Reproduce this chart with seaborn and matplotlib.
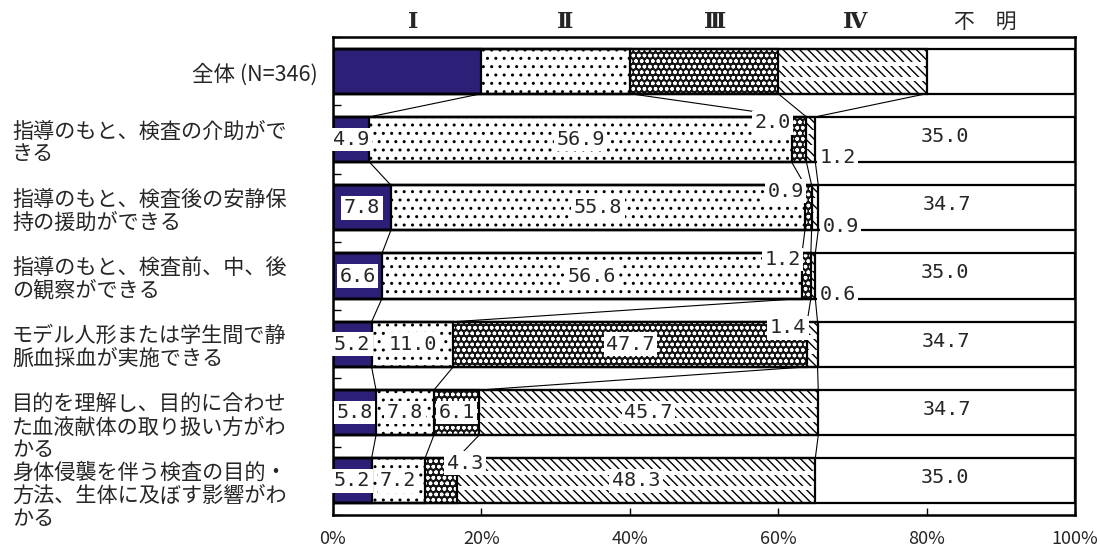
import numpy as np
import pandas as pd
import matplotlib
matplotlib.use("Agg")
import matplotlib.pyplot as plt
import matplotlib.transforms as mtransforms
import seaborn as sns

# ---- data -------------------------------------------------------------
categories = [
    "全体 (N=346)",
    "指導のもと、検査の介助がで\nきる",
    "指導のもと、検査後の安静保\n持の援助ができる",
    "指導のもと、検査前、中、後\nの観察ができる",
    "モデル人形または学生間で静\n脈血採血が実施できる",
    "目的を理解し、目的に合わせ\nた血液献体の取り扱い方がわ\nかる",
    "身体侵襲を伴う検査の目的・\n方法、生体に及ぼす影響がわ\nかる",
]
level_names = ["Ⅰ", "Ⅱ", "Ⅲ", "Ⅳ", "不　明"]
level_1 = [20.0, 4.9, 7.8, 6.6, 5.2, 5.8, 5.2]
level_2 = [20.0, 56.9, 55.8, 56.6, 11.0, 7.8, 7.2]
level_3 = [20.0, 2.0, 0.9, 1.2, 47.7, 6.1, 4.3]
level_4 = [20.0, 1.2, 0.9, 0.6, 1.4, 45.7, 48.3]
unknown = [20.0, 35.0, 34.7, 35.0, 34.7, 34.7, 35.0]
x_ticks = [0, 20, 40, 60, 80, 100]
x_tick_labels = ["0%", "20%", "40%", "60%", "80%", "100%"]

# ---- styling ----------------------------------------------------------
sns.set_style("white")
JP = ["Noto Sans CJK JP", "DejaVu Sans"]
plt.rcParams["font.family"] = JP
plt.rcParams["hatch.linewidth"] = 1.0

NAVY = "#2b1f78"
BAR_H = 0.66
EDGE_LW = 1.6

fig, ax = plt.subplots(figsize=(11, 5.5), dpi=100)
fig.subplots_adjust(left=333 / 1100, right=1075 / 1100,
                    top=1 - 37 / 550, bottom=1 - 515 / 550)

series = [level_1, level_2, level_3, level_4, unknown]
vals = np.array(series, dtype=float)
cum = np.cumsum(vals, axis=0)
df = pd.DataFrame({"item": categories})
for k in range(5):
    df[f"cum{k}"] = cum[k]

fills = [
    dict(face=NAVY, hatch=None, hatch_col=None),
    dict(face="white", hatch="..", hatch_col="black"),
    dict(face="#151515", hatch="ooo", hatch_col="white"),
    dict(face="white", hatch="\\\\\\\\", hatch_col="black"),
    dict(face="white", hatch=None, hatch_col=None),
]


def layer(col, **style):
    n0 = len(ax.patches)
    sns.barplot(data=df, x=col, y="item", order=categories, orient="h",
                width=BAR_H, color="white", errorbar=None, ax=ax)
    new = ax.patches[n0:]
    for p in new:
        p.set_facecolor(style.get("face", "none"))
        p.set_edgecolor(style.get("edge", "black"))
        p.set_linewidth(style.get("lw", 0))
        if style.get("hatch"):
            p.set_hatch(style["hatch"])
        p.set_zorder(style.get("z", 2))
    return new


rows = np.arange(len(categories))
# stacked bars: draw cumulative totals from the widest down
for k in range(4, -1, -1):
    f = fills[k]
    layer(f"cum{k}", face=f["face"], hatch=f["hatch"],
          edge=f["hatch_col"] if f["hatch_col"] else f["face"], lw=0, z=2)
    if k == 3:
        # thin white gaps splitting the diagonal strokes into three rows
        for off in (-0.11, 0.11):
            ax.barh(rows + off, vals[3], left=cum[2], height=0.06,
                    color="white", linewidth=0, zorder=2)
    layer(f"cum{k}", face="none", edge="black", lw=EDGE_LW, z=3)

ax.set_xlim(0, 100)
ax.set_ylim(len(categories) - 0.5, -0.5)

# series lines joining the segment boundaries of neighbouring bars
for i in range(len(categories) - 1):
    for k in range(4):
        ax.plot([cum[k][i], cum[k][i + 1]],
                [i + BAR_H / 2, i + 1 - BAR_H / 2],
                color="black", lw=0.8, zorder=2.5)

# ---- axes ------------------------------------------------------------
for s in ax.spines.values():
    s.set_visible(True)
    s.set_color("black")
    s.set_linewidth(1.8)
ax.set_xlabel("")
ax.set_ylabel("")
ax.set_yticks(np.arange(-0.5, len(categories), 1.0))
ax.set_yticklabels([])
ax.set_xticks(x_ticks)
ax.set_xticklabels(x_tick_labels, fontsize=13, family=JP)
ax.tick_params(axis="y", direction="in", length=6, width=1, color="black", left=True)
ax.tick_params(axis="x", direction="in", length=5, width=1, color="black",
               bottom=True, pad=11)

# header labels above the columns
hdr_x = [10.8, 31.3, 51.5, 70.4, 87.9]
for j, (name, hx) in enumerate(zip(level_names, hdr_x)):
    ax.text(hx, -0.5, name, transform=mtransforms.offset_copy(
        ax.transData, fig=fig, x=0, y=15, units="dots"),
        ha="center", va="center", fontsize=16 if j < 4 else 15,
        fontweight="bold" if j < 4 else "normal",
        family=["DejaVu Serif", "Noto Sans CJK JP"])

# category labels on the left
lab_tr = mtransforms.blended_transform_factory(fig.transFigure, ax.transData)
for i, cat in enumerate(categories):
    if i == 0:
        ax.text(318 / 1100, i, cat, transform=mtransforms.offset_copy(
            lab_tr, fig=fig, x=0, y=-3, units="dots"),
            ha="right", va="center", fontsize=15.5, family=JP)
    else:
        ax.text(12 / 1100, i, cat, transform=mtransforms.offset_copy(
            lab_tr, fig=fig, x=0, y=19, units="dots"),
            ha="left", va="top", fontsize=15.2, family=JP, linespacing=1.05)

# ---- value labels -----------------------------------------------------
NUM = ["DejaVu Sans Mono"]
box = dict(boxstyle="square,pad=0.12", fc="white", ec="none")
special = {
    (1, 2): "above_left", (2, 2): "above_left", (3, 2): "above_left",
    (4, 3): "above_left", (6, 2): "above_right",
    (1, 3): "below_right", (2, 3): "below_right", (3, 3): "below_right",
}
for i in range(1, len(categories)):
    for k in range(5):
        v = vals[k][i]
        txt = f"{v:.1f}"
        start = cum[k][i] - v
        end = cum[k][i]
        mode = special.get((i, k))
        if mode == "above_left":
            x, y, dx, dy, ha = start, i - BAR_H / 2, -1, -6, "right"
        elif mode == "above_right":
            x, y, dx, dy, ha = end, i - BAR_H / 2, -10, -5, "left"
        elif mode == "below_right":
            x, y, dx, dy, ha = end, i + BAR_H / 2, 4, 4, "left"
        elif k == 4:
            x, y, dx, dy, ha = (start + end) / 2, i, 0, 3, "center"
        else:
            x, y, dx, dy, ha = (start + end) / 2, i, 0, 0, "center"
        ax.text(x, y, txt, transform=mtransforms.offset_copy(
            ax.transData, fig=fig, x=dx, y=dy, units="dots"),
            ha=ha, va="center", fontsize=14.5, family=NUM,
            bbox=None if k == 4 else box, zorder=5)

fig.savefig("out.png", dpi=100)
